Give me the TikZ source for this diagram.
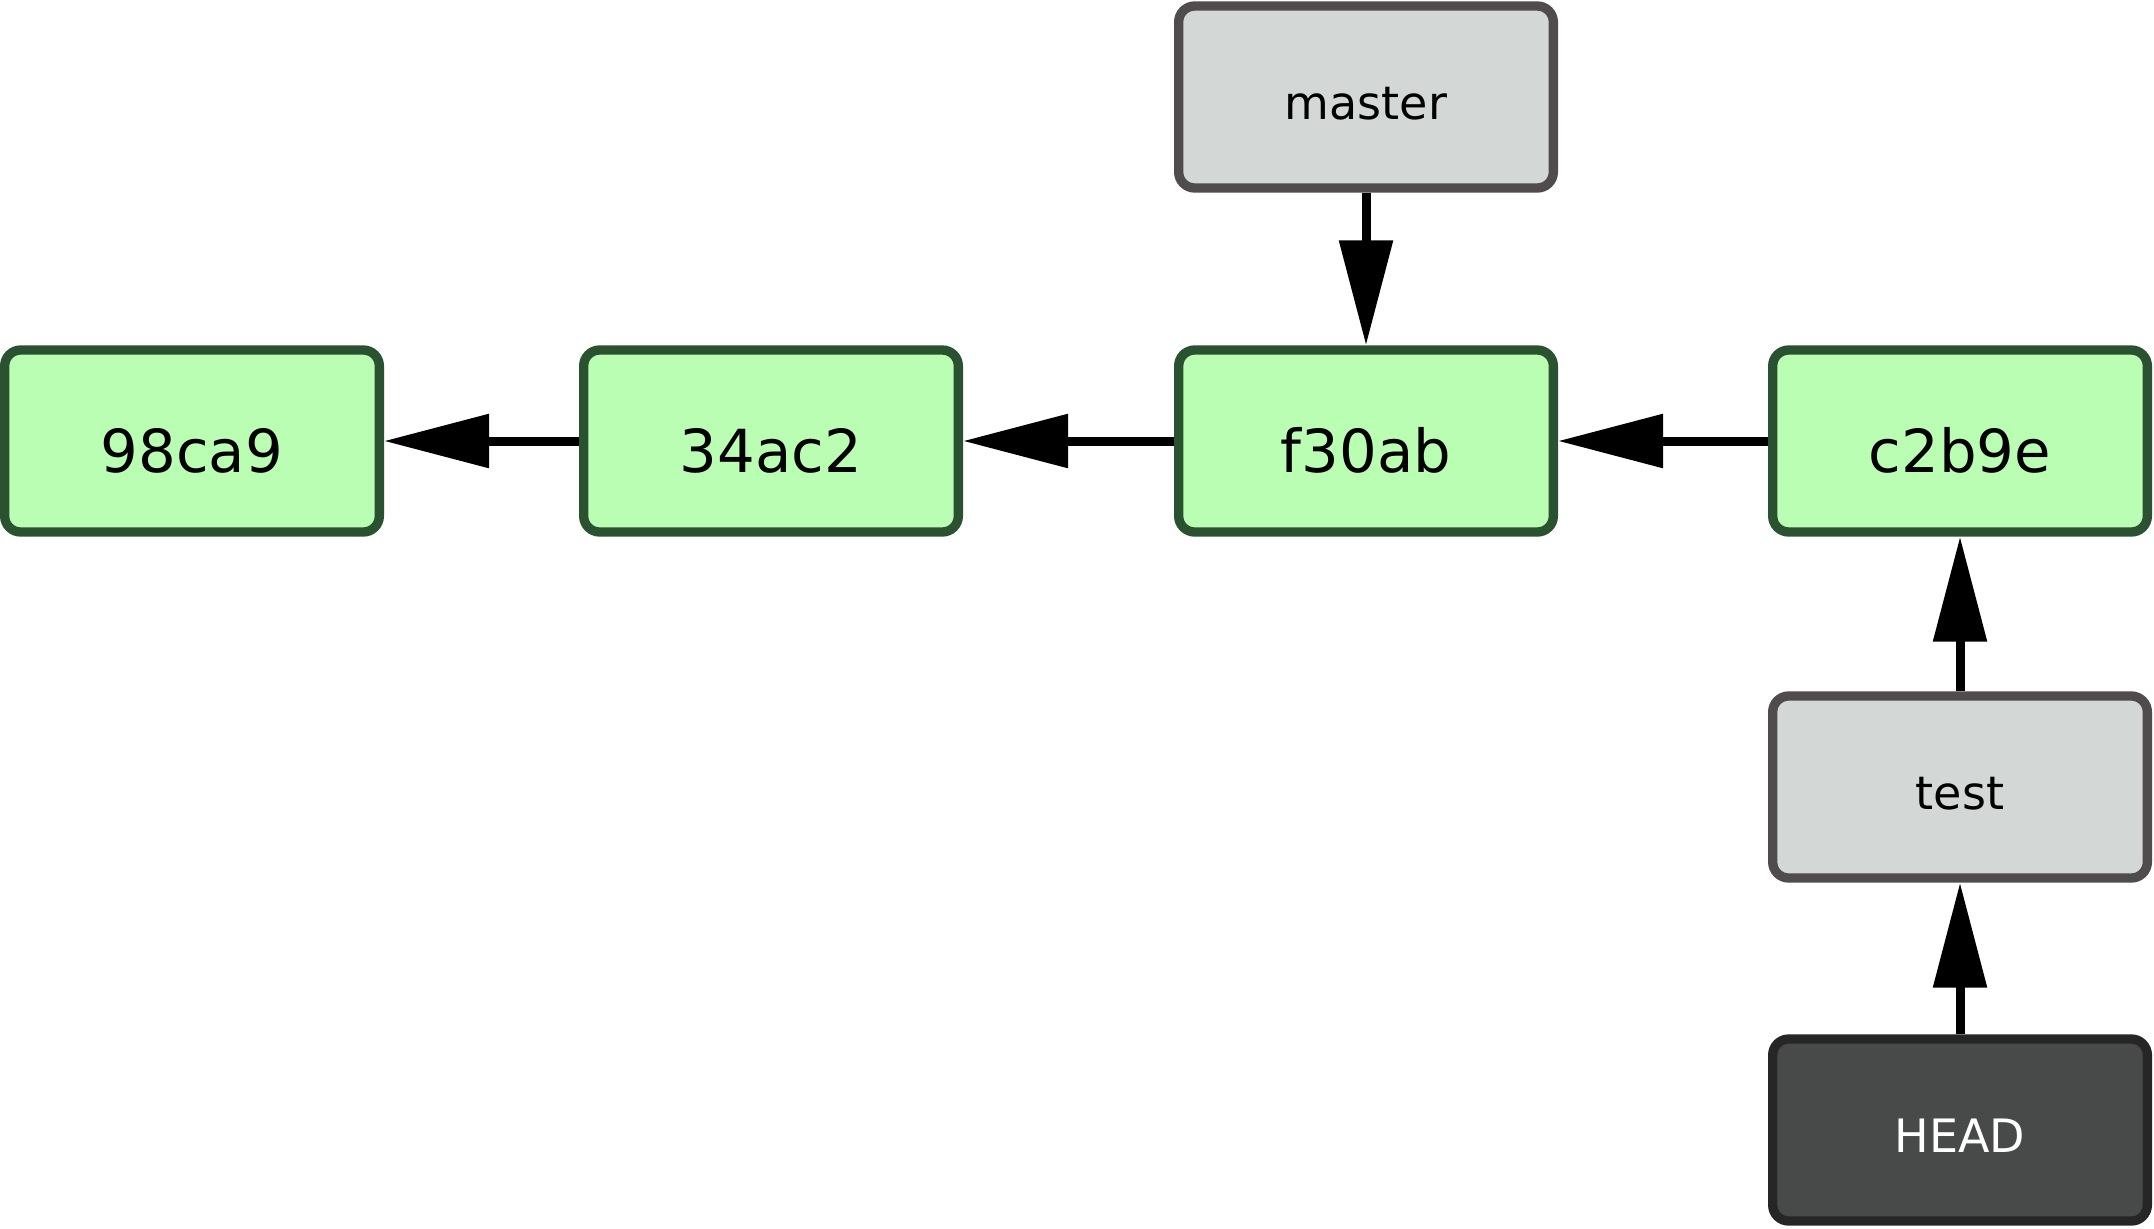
\documentclass[tikz,border=0pt]{standalone}
\usepackage{fontspec}
\setmainfont{DejaVu Sans}
\usetikzlibrary{arrows.meta}
\definecolor{cfill}{HTML}{B9FEB3}
\definecolor{cdraw}{HTML}{2A5130}
\definecolor{bfill}{HTML}{D3D7D6}
\definecolor{bdraw}{HTML}{504C4E}
\definecolor{hfill}{HTML}{484A49}
\definecolor{hdraw}{HTML}{262626}
\tikzset{
  box/.style={rectangle, rounded corners=12pt, line width=7pt,
    minimum width=281pt, minimum height=136.5pt, inner sep=0pt, text depth=0pt},
  commit/.style={box, fill=cfill, draw=cdraw, font=\fontsize{44.5}{50}\selectfont, text height=47.5pt},
  branch/.style={box, fill=bfill, draw=bdraw, font=\fontsize{34.5}{40}\selectfont, text height=34pt},
  headbox/.style={box, fill=hfill, draw=hdraw, text=white, font=\fontsize{34.5}{40}\selectfont, text height=34pt},
  ptr/.style={line width=6.75pt, -{Triangle[length=78.75pt,width=39pt]}}
}
\begin{document}
\begin{tikzpicture}[x=0.75pt,y=-0.75pt]
\useasboundingbox (0,0) rectangle (2154,1228);
\node[commit] (c1) at (192,441) {98ca9};
\node[commit] (c2) at (771,441) {34ac2};
\node[commit] (c3) at (1366,441) {f30ab};
\node[commit] (c4) at (1960,441) {c2b9e};
\node[branch] (master) at (1366,97) {master};
\node[branch] (test) at (1960,787) {test};
\node[headbox] (head) at (1960,1130) {HEAD};
\draw[ptr] (c2) -- (c1);
\draw[ptr] (c3) -- (c2);
\draw[ptr] (c4) -- (c3);
\draw[ptr] (master) -- (c3);
\draw[ptr] (test) -- (c4);
\draw[ptr] (head) -- (test);
\end{tikzpicture}
\end{document}
